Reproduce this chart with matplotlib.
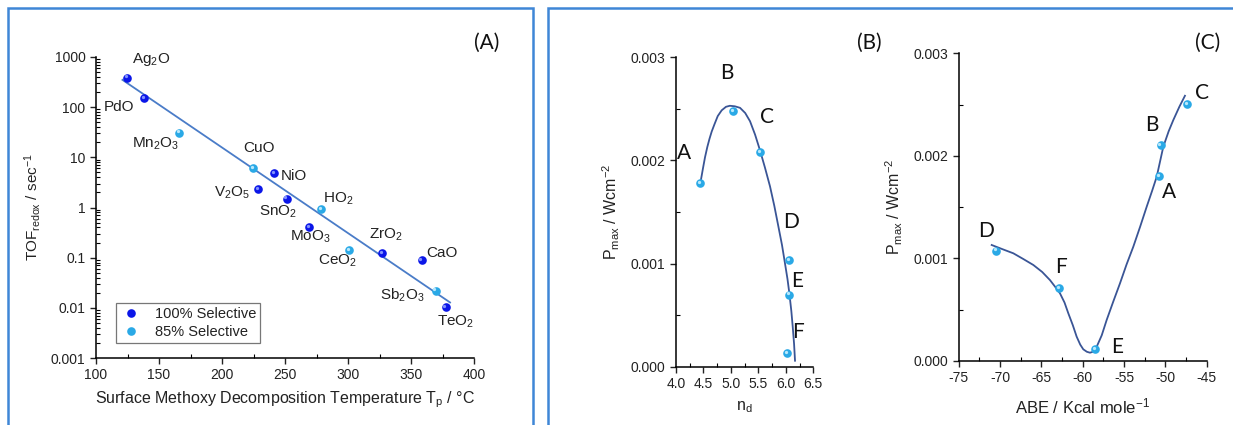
import matplotlib
matplotlib.use("Agg")
import matplotlib.pyplot as plt
import matplotlib.transforms as mtransforms
from matplotlib.patches import Rectangle
from matplotlib.ticker import MultipleLocator, FuncFormatter, LogLocator, NullFormatter

plt.rcParams['font.family'] = ['Liberation Sans', 'DejaVu Sans']
plt.rcParams['axes.unicode_minus'] = False
plt.rcParams['mathtext.fontset'] = 'custom'
plt.rcParams['mathtext.rm'] = 'Liberation Sans'
plt.rcParams['mathtext.it'] = 'Liberation Sans'
plt.rcParams['mathtext.default'] = 'regular'

# ---- (A) TOF vs. surface methoxy decomposition temperature ----
oxides = ['Ag$_2$O', 'PdO', 'Mn$_2$O$_3$', 'CuO', 'NiO', 'V$_2$O$_5$', 'SnO$_2$',
          'HO$_2$', 'MoO$_3$', 'CeO$_2$', 'ZrO$_2$', 'CaO', 'Sb$_2$O$_3$', 'TeO$_2$']
tp = [124.6, 138.3, 166.0, 224.8, 241.3, 228.8, 251.3,
      278.6, 269.3, 300.8, 327.2, 358.5, 369.6, 377.5]
tof = [390, 150, 31, 6.0, 4.9, 2.3, 1.5,
       0.94, 0.41, 0.143, 0.123, 0.09, 0.022, 0.0102]
selectivity = ['100', '100', '85', '85', '100', '100', '100',
               '85', '100', '85', '100', '100', '85', '100']
fit_tp = [121, 381]
fit_tof = [350, 0.0128]

# ---- (B) Pmax vs. n_d ----
samples = ['A', 'B', 'C', 'D', 'E', 'F']
nd = [4.437, 5.044, 5.53, 6.064, 6.064, 6.027]
pmax_b = [0.00178, 0.00248, 0.00208, 0.00103, 0.00070, 0.00013]
curve_b_x = [4.449, 4.49, 4.528, 4.57, 4.61, 4.65, 4.70, 4.76, 4.832, 4.91, 4.98,
             5.07, 5.166, 5.26, 5.348, 5.44, 5.53, 5.62, 5.712, 5.79, 5.864, 5.93,
             5.985, 6.03, 6.064, 6.10, 6.125, 6.15, 6.167]
curve_b_y = [0.001796, 0.00192, 0.00203, 0.00213, 0.00221, 0.00228, 0.00235, 0.00243,
             0.002486, 0.00252, 0.00253, 0.002525, 0.00251, 0.00246, 0.00238, 0.00225,
             0.002097, 0.00193, 0.001748, 0.00156, 0.00136, 0.00118, 0.00100, 0.00085,
             0.000712, 0.00054, 0.00039, 0.00022, 0.000058]

# ---- (C) Pmax vs. ABE ----
abe = [-50.73, -50.57, -47.35, -70.49, -58.51, -62.83]
pmax_c = [0.001806, 0.002105, 0.002508, 0.001075, 0.000114, 0.000714]
curve_c_x = [-71.01, -69.7, -68.39, -67.2, -65.97, -64.9, -63.96, -63.3, -62.75,
             -62.2, -61.74, -61.2, -60.73, -60.3, -59.93, -59.5, -59.12, -58.75,
             -58.39, -57.7, -57.1, -56.3, -55.49, -54.7, -53.88, -53.05, -52.26,
             -51.6, -51.05, -50.25, -49.6, -49.04, -48.3, -47.63]
curve_c_y = [0.001131, 0.00109, 0.00105, 0.000995, 0.000936, 0.000868, 0.000789,
             0.00072, 0.00066, 0.00057, 0.000465, 0.00035, 0.000237, 0.00016,
             0.000114, 0.00009, 0.000081, 0.00009, 0.000124, 0.00025, 0.00040,
             0.00058, 0.000757, 0.00094, 0.001114, 0.00131, 0.001504, 0.00166,
             0.001796, 0.002089, 0.00224, 0.002349, 0.00248, 0.002586]

DARK = '#0b16e8'
DARK_HL = '#8fa0ff'
LIGHT = '#2aa9e6'
LIGHT_HL = '#c8f0ff'
FIT = '#4a7cc8'
CURVE = '#3a5596'
FRAME = '#3f86d6'
TEXT = '#222222'
LETTER_FONT = ['Lato', 'DejaVu Sans']

fig = plt.figure(figsize=(12.33, 4.25), dpi=100)

# panel frames
fig.patches.append(Rectangle((8 / 1233, -0.02), (533 - 8) / 1233, (425 - 8) / 425 + 0.02,
                             transform=fig.transFigure, fill=False, ec=FRAME, lw=1.8))
fig.patches.append(Rectangle((548 / 1233, -0.02), 1.0, (425 - 8) / 425 + 0.02,
                             transform=fig.transFigure, fill=False, ec=FRAME, lw=1.8))


def balls(ax, x, y, color, hl, ms=6.2, label=None):
    h, = ax.plot(x, y, 'o', ms=ms, color=color, mec='none', zorder=3, label=label,
                 clip_on=False)
    off = mtransforms.offset_copy(ax.transData, fig=fig, x=-0.9, y=0.9, units='points')
    ax.plot(x, y, 'o', ms=ms * 0.38, color=hl, mec='none', transform=off, zorder=4,
            alpha=0.9, clip_on=False)
    return h


def style(ax):
    for s in ('top', 'right'):
        ax.spines[s].set_visible(False)
    for s in ('left', 'bottom'):
        ax.spines[s].set_linewidth(1.1)
    ax.tick_params(which='major', direction='out', length=4, width=1.0, labelsize=10,
                   colors=TEXT)
    ax.tick_params(which='minor', direction='in', length=3, width=0.8)


# ---------------- (A) ----------------
axA = fig.add_axes([96 / 1233, 1 - 358 / 425, (474 - 96) / 1233, (358 - 57) / 425])
axA.set_yscale('log')
axA.plot(fit_tp, fit_tof, color=FIT, lw=1.3, zorder=2)
d_idx = [i for i, s in enumerate(selectivity) if s == '100']
l_idx = [i for i, s in enumerate(selectivity) if s == '85']
hd = balls(axA, [tp[i] for i in d_idx], [tof[i] for i in d_idx], DARK, DARK_HL,
           label='100% Selective')
hl = balls(axA, [tp[i] for i in l_idx], [tof[i] for i in l_idx], LIGHT, LIGHT_HL,
           label='85% Selective')

label_offsets_a = [(24, 18), (-25, -9), (-24, -11), (6, 20), (20, -3), (-26, -3),
                   (-9, -13), (17, 10), (1, -10), (-12, -11), (4, 18), (20, 7),
                   (-33, -5), (10, -14)]
for name, x, y, (dx, dy) in zip(oxides, tp, tof, label_offsets_a):
    axA.annotate(name, (x, y), xytext=(dx, dy), textcoords='offset pixels',
                 ha='center', va='center', fontsize=11, color=TEXT)

axA.set_xlim(100, 400)
axA.set_ylim(0.001, 1000)
axA.xaxis.set_major_locator(MultipleLocator(50))
axA.xaxis.set_minor_locator(MultipleLocator(25))
axA.yaxis.set_major_locator(LogLocator(base=10, numticks=10))
axA.yaxis.set_minor_locator(LogLocator(base=10, subs=range(2, 10), numticks=10))
axA.yaxis.set_minor_formatter(NullFormatter())
axA.yaxis.set_major_formatter(FuncFormatter(lambda v, p: ('%g' % v)))
style(axA)
axA.set_xlabel('Surface Methoxy Decomposition Temperature T$_p$ / °C', fontsize=11.5,
               labelpad=5, color=TEXT)
axA.set_ylabel('TOF$_{redox}$ / sec$^{-1}$', fontsize=11, labelpad=6, color=TEXT)
leg = axA.legend(handles=[hd, hl], loc='lower left', bbox_to_anchor=(0.053, 0.05),
                 borderaxespad=0, frameon=True, fancybox=False, fontsize=10.5,
                 handletextpad=0.8, borderpad=0.25, labelspacing=0.3, handlelength=1.6)
leg.get_frame().set_edgecolor('#555555')
leg.get_frame().set_linewidth(0.9)
for t in leg.get_texts():
    t.set_color(TEXT)
fig.text(487 / 1233, 1 - 43 / 425, '(A)', fontsize=15, ha='center', va='center',
         family=LETTER_FONT, color='#111111')

# ---------------- (B) ----------------
axB = fig.add_axes([676 / 1233, 1 - 366.7 / 425, (813.3 - 676) / 1233, (366.7 - 57.3) / 425])
axB.plot(curve_b_x, curve_b_y, color=CURVE, lw=1.3, zorder=2)
balls(axB, nd, pmax_b, LIGHT, LIGHT_HL)
label_offsets_b = [(-16, 30), (-7, 38), (7, 35), (2, 38), (8, 14), (11, 21)]
for name, x, y, (dx, dy) in zip(samples, nd, pmax_b, label_offsets_b):
    axB.annotate(name, (x, y), xytext=(dx, dy), textcoords='offset pixels',
                 ha='center', va='center', fontsize=15, family=LETTER_FONT,
                 color='#111111')
axB.set_xlim(4.0, 6.5)
axB.set_ylim(0, 0.003)
axB.xaxis.set_major_locator(MultipleLocator(0.5))
axB.xaxis.set_minor_locator(MultipleLocator(0.25))
axB.yaxis.set_major_locator(MultipleLocator(0.001))
axB.yaxis.set_minor_locator(MultipleLocator(0.0005))
axB.yaxis.set_major_formatter(FuncFormatter(lambda v, p: '%.3f' % v))
axB.xaxis.set_major_formatter(FuncFormatter(lambda v, p: '%.1f' % v))
style(axB)
axB.set_xlabel('n$_d$', fontsize=11.5, labelpad=6, color=TEXT)
axB.set_ylabel('P$_{max}$ / Wcm$^{-2}$', fontsize=11.5, labelpad=6, color=TEXT)
fig.text(869 / 1233, 1 - 43 / 425, '(B)', fontsize=15, ha='center', va='center',
         family=LETTER_FONT, color='#111111')

# ---------------- (C) ----------------
axC = fig.add_axes([958.7 / 1233, 1 - 361 / 425, (1206.7 - 958.7) / 1233, (361 - 53.3) / 425])
axC.plot(curve_c_x, curve_c_y, color=CURVE, lw=1.3, zorder=2)
balls(axC, abe, pmax_c, LIGHT, LIGHT_HL)
label_offsets_c = [(10, -16), (-9, 20), (15, 11), (-10, 20), (22, 2), (2, 21)]
for name, x, y, (dx, dy) in zip(samples, abe, pmax_c, label_offsets_c):
    axC.annotate(name, (x, y), xytext=(dx, dy), textcoords='offset pixels',
                 ha='center', va='center', fontsize=15, family=LETTER_FONT,
                 color='#111111')
axC.set_xlim(-75, -45)
axC.set_ylim(0, 0.003)
axC.xaxis.set_major_locator(MultipleLocator(5))
axC.xaxis.set_minor_locator(MultipleLocator(2.5))
axC.yaxis.set_major_locator(MultipleLocator(0.001))
axC.yaxis.set_minor_locator(MultipleLocator(0.0005))
axC.yaxis.set_major_formatter(FuncFormatter(lambda v, p: '%.3f' % v))
axC.xaxis.set_major_formatter(FuncFormatter(lambda v, p: '%d' % round(v)))
style(axC)
axC.set_xlabel('ABE / Kcal mole$^{-1}$', fontsize=12, labelpad=8, color=TEXT)
axC.set_ylabel('P$_{max}$ / Wcm$^{-2}$', fontsize=11.5, labelpad=6, color=TEXT)
fig.text(1208 / 1233, 1 - 43 / 425, '(C)', fontsize=15, ha='center', va='center',
         family=LETTER_FONT, color='#111111')

fig.savefig('out.png', dpi=100)
